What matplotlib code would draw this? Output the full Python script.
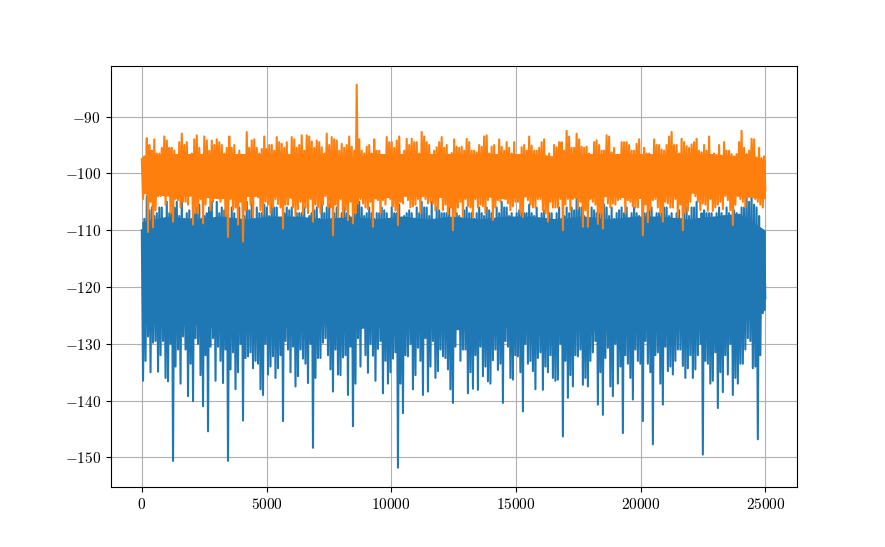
import matplotlib
matplotlib.use("Agg")
import matplotlib.pyplot as plt
import numpy as np
from matplotlib import ticker

plt.rcParams['mathtext.fontset'] = 'cm'

# per-bin envelope (200 samples per bin)
blue_hi = [-110, -104, -106, -107, -106, -105, -107, -105, -104, -107, -108, -106, -108, -107, -105, -105, -106, -107, -106, -108, -109,
           -105, -105, -106, -107, -106, -105, -106, -108, -106, -106, -107, -107, -108, -107, -106, -105, -106, -108, -106, -107, -107, -108,
           -100.1, -106, -107, -107, -107, -106, -107, -106, -107, -108, -107, -107, -106, -105, -106, -105, -106, -107, -107, -108, -107, -108,
           -106, -107, -107, -107, -106, -107, -106, -105, -106, -107, -107, -107, -107, -107, -106, -107, -108, -107, -107, -108, -106, -106,
           -104, -106, -108, -106, -107, -107, -106, -106, -107, -106, -106, -107, -107, -108, -107, -106, -107, -107, -106, -107, -107, -108,
           -106, -106, -105, -107, -107, -107, -107, -107, -106, -108, -107, -106, -103.3, -103.5, -106, -110]
blue_lo = [-136.5, -128.7, -129.8, -134.9, -129.5, -136.6, -150.6, -131, -128.7, -139.2, -140.1, -130, -141, -145.4, -129, -130.5, -136.9, -150.6, -131.5, -135, -143.5,
           -132.2, -134.3, -133.5, -139, -135.4, -132.2, -134.3, -143.6, -131, -130.5, -135.7, -132.6, -136.9, -148.3, -132.5, -129.8, -132, -138.4, -135.4, -132.4, -139, -144.5,
           -129, -126.4, -135.1, -132.1, -130.9, -138.7, -137, -132.6, -151.8, -142.2, -132.2, -138, -130.7, -139, -138.4, -129.5, -134.8, -132.2, -134.5, -140.4, -126.4, -131,
           -138.7, -137.9, -138.1, -135.7, -136.6, -132.9, -134.6, -140.4, -130.5, -136.3, -132.2, -141.9, -133.5, -134.8, -132.5, -138.1, -135, -136, -136.3, -146.3, -139.5, -137.5,
           -132.2, -137.2, -137.5, -131.5, -140.7, -142.5, -130.7, -139.2, -137, -145.7, -133.5, -139.8, -133, -143.6, -133.5, -147.7, -131.5, -140.7, -134.8, -135.4, -131, -133.9,
           -134.3, -136, -132, -149.5, -133.5, -136.5, -141.3, -138.5, -135.4, -139, -137, -133.5, -129, -134.3, -146.8, -124.6]
# second, smaller excursion inside each bin
blue_hi2 = [-108, -106.5, -107.5, -106, -108.5, -107, -106, -107.5, -108, -106.5, -107, -105.5, -107.5, -106, -108, -107, -106.5, -108.5, -107, -106, -107.5,
            -106.5, -108, -107, -105.5, -107.5, -106, -108, -107, -106.5, -108.5, -107, -106, -107.5, -106.5, -108, -107, -105.5, -107, -108.5, -106, -107.5, -106.5,
            -105, -107.5, -106, -108, -107, -106.5, -108, -107, -105.5, -107.5, -106.5, -108, -107, -106, -107.5, -108.5, -106.5, -107, -106, -108, -107.5, -106.5,
            -107, -108, -106, -107.5, -106.5, -108.5, -107, -106, -107.5, -108, -106.5, -107, -105.5, -107.5, -108, -106.5, -107, -108.5, -106, -107.5, -107, -106.5,
            -106, -107.5, -108, -106.5, -107, -105.5, -107.5, -108, -106.5, -107, -108.5, -106, -107.5, -107, -106.5, -108, -107, -106, -107.5, -108.5, -106.5, -107,
            -107.5, -106, -108, -106.5, -107, -108.5, -106, -107.5, -107, -106.5, -108, -106, -105, -105.5, -107.5, -111]
blue_lo2 = [-133, -135, -129.5, -132, -136, -130, -134, -137, -131, -133.5, -129, -135.5, -132, -130.5, -136.5, -133, -131, -134.5, -138, -130, -132.5,
            -131.5, -133, -138, -130, -134, -136, -132, -129.5, -135, -137.5, -131, -133.5, -130, -136, -132.5, -129, -134.5, -131, -135.5, -132, -130.5, -137,
            -134, -132, -130, -136.5, -129.5, -133, -135, -131.5, -137, -132, -130, -135.5, -133, -129, -134, -136, -131, -132.5, -138, -130.5, -133, -131,
            -135, -132, -130.5, -134, -137, -131, -133.5, -129.5, -136, -132, -135, -130, -133, -138, -131.5, -134, -132, -136.5, -130, -133, -135.5, -132,
            -131, -136, -133, -129.5, -135, -132.5, -137.5, -130, -134, -132, -136, -131, -133.5, -129.5, -135, -132, -137, -130.5, -134, -133, -131, -136,
            -132, -134.5, -130, -133, -137, -131.5, -135, -132, -130, -136, -133.5, -131, -129.5, -134, -132, -122]

orange_hi = [-97.5, -93.8, -96, -96.5, -95.5, -94.2, -95.5, -99, -93, -94.5, -96.5, -93.3, -96.7, -94.2, -94.2, -94, -95, -95.5, -95.5, -97.5, -97.5,
             -92.7, -94.2, -95.5, -95.7, -95.7, -95, -93.6, -94.8, -94.5, -93.6, -95.5, -93.3, -93.3, -94.4, -94.2, -95.4, -93, -93.6, -94.2, -94.8, -95, -95.3,
             -84.4, -96, -95.3, -96.5, -96, -98.2, -93.6, -94.5, -94.2, -98.9, -93.9, -93.9, -94.5, -92.7, -94.5, -96.8, -95.4, -93.6, -95, -96.4, -95.3, -95.3,
             -93.9, -96, -96.3, -95.3, -93.3, -95.3, -98, -95.3, -94.5, -96.5, -97.5, -95.4, -96, -95.1, -96, -94.5, -97, -97.6, -95.4, -94.5, -92.5, -95.5,
             -93, -95.3, -95.3, -96.8, -94.2, -96, -93.3, -96.3, -97.5, -94.5, -94.5, -96, -94.8, -97, -96.5, -96.8, -95, -95.8, -95, -92.7, -95, -93.9,
             -95.2, -94.9, -93.9, -96.3, -96, -98.6, -97.5, -97.3, -96, -96.6, -96.6, -92.5, -96.6, -93.9, -97.2, -97.3]
orange_lo = [-104.5, -110.3, -109.5, -104, -102, -102.5, -108.5, -104.7, -105, -105.5, -109, -107, -108.8, -104, -105, -103, -104.2, -111.2, -106.5, -109, -112,
             -104, -107.7, -104.2, -107.2, -105.5, -106, -105.4, -109.7, -105.5, -106, -106.3, -107.2, -107, -108.5, -106, -105.5, -106, -110.9, -107.7, -107.7, -108.2, -108.8,
             -105.3, -105.3, -106.3, -109.4, -104.7, -104.7, -103, -105.8, -109.1, -105.3, -104.7, -105.8, -104.5, -104, -105.3, -105.3, -106.2, -106.5, -107.2, -110, -106, -107.7,
             -105.8, -107.7, -106, -105.8, -104.7, -108.2, -104.7, -104.2, -105.3, -105.8, -105, -107.7, -104.7, -106, -104.5, -106.5, -108.5, -106, -106, -110, -104.5, -104.5,
             -106.2, -109.4, -109.4, -105, -108.9, -109.7, -105.3, -105.3, -104.7, -104, -104.7, -105.8, -106, -110.9, -108.6, -104.7, -106, -108.5, -105.3, -106, -107.7, -110,
             -106.6, -102, -105, -105.3, -106.6, -106.6, -105.5, -106.3, -104.7, -109.1, -104, -105, -101.5, -103.8, -105, -106]
orange_hi2 = [-97, -95, -94, -96.5, -93.5, -95.5, -96, -94.5, -95, -97, -94, -95.5, -93.5, -96, -95, -94.5, -96.5, -93.5, -95, -96, -97.5,
              -95.5, -94, -96.5, -93.5, -95, -96, -94.5, -95.5, -97, -94, -95, -96, -93.5, -95.5, -94.5, -96.5, -95, -94, -96, -95.5, -93.5, -96,
              -94, -96.5, -95, -94, -96, -97, -94.5, -95.5, -93.5, -96, -95, -94.5, -96.5, -93.5, -95, -96, -94.5, -95.5, -97, -94, -95.5, -96,
              -94.5, -96, -95, -93.5, -96.5, -95, -94, -96, -95.5, -94.5, -97, -95, -93.5, -96, -95.5, -94, -96.5, -95, -94.5, -96, -93.5, -95.5,
              -94, -95.5, -96.5, -94.5, -95, -96, -93.5, -95.5, -97, -94.5, -95, -96, -94, -95.5, -96.5, -94, -95, -96, -93.5, -95, -96.5, -94.5,
              -95.5, -94.5, -96, -95, -93.5, -96.5, -95, -94.5, -96, -97, -94.5, -95.5, -96, -94, -95.5, -97]
orange_lo2 = [-103.5, -105, -106.5, -104, -105.5, -107, -104.5, -106, -105, -103.5, -107, -104.5, -105.5, -106.5, -104, -105, -107.5, -104.5, -106, -105, -106.5,
              -105.5, -104, -106.5, -105, -107, -104.5, -106, -105.5, -104, -107.5, -105, -106, -104.5, -105.5, -107, -104, -106, -105.5, -104.5, -106.5, -105, -107,
              -104.5, -106, -105, -104, -107, -105.5, -104.5, -106.5, -105, -104, -106, -105.5, -107, -104.5, -105, -106.5, -104, -105.5, -106, -107.5, -105, -104.5,
              -106, -104.5, -105.5, -107, -104, -106, -105, -104.5, -106.5, -105, -107, -104, -105.5, -106, -104.5, -107, -105, -106, -104.5, -105.5, -106.5, -104,
              -105, -106.5, -104.5, -105.5, -107, -104, -106, -105.5, -104.5, -107, -105, -106, -104, -105.5, -106.5, -104.5, -107, -105, -106, -104.5, -105.5, -107,
              -105, -104, -106.5, -105.5, -104.5, -106, -105, -104, -106.5, -105.5, -104.5, -106, -103.5, -104.5, -105.5, -103]

# solid core of each band, one value per 1000 samples
blue_core_hi = [-108.5, -107.5, -108, -107.5, -108, -107.5, -107.5, -108, -107.5, -108, -107.5, -108, -107.5,
                -108, -107.5, -107.5, -108, -107.5, -108, -107.5, -107.5, -108, -107.5, -107, -110]
blue_core_lo = [-126, -127, -126.5, -127.5, -127, -126.5, -127.5, -126.5, -127.5, -127, -126.5, -127, -127.5,
                -127.5, -127, -126.5, -127, -127.5, -127.5, -126.5, -127, -127, -127.5, -126.5, -124]
orange_core_hi = [-97, -96.5, -96.5, -96.5, -96.5, -96.5, -96.5, -96.5, -97, -96.5, -96.5, -96.5, -96.5,
                  -96.5, -96.5, -96.5, -97, -96.5, -96.5, -96.5, -96.5, -96.5, -96.5, -97, -97.5]
orange_core_lo = [-103.5, -104, -104, -104.5, -104, -104, -104.5, -103.5, -104, -104.5, -104, -104, -104.5,
                  -104, -104.5, -104, -104, -104.5, -104, -104.5, -104, -103.5, -103.5, -104, -104.5]

n_samples = 25000

blue = np.column_stack((blue_hi, blue_lo, blue_hi2, blue_lo2)).ravel()
orange = np.column_stack((orange_hi, orange_lo, orange_hi2, orange_lo2)).ravel()
x = np.linspace(0, n_samples - 1, len(blue))
xc = np.linspace(0, n_samples - 1, len(blue_core_hi))

fig = plt.figure(figsize=(8.85, 5.47), dpi=100)
ax = fig.add_subplot(111)
ax.fill_between(xc, blue_core_lo, blue_core_hi, color='C0', lw=0, zorder=2)
ax.plot(x, blue, color='C0', zorder=2)
ax.fill_between(xc, orange_core_lo, orange_core_hi, color='C1', lw=0, zorder=2)
ax.plot(x, orange, color='C1', zorder=2)
ax.grid(True)

fmt = ticker.FuncFormatter(lambda v, pos: r'$%d$' % round(v))
ax.xaxis.set_major_formatter(fmt)
ax.yaxis.set_major_formatter(fmt)
ax.tick_params(labelsize=11)

fig.savefig("out.png", dpi=100)
